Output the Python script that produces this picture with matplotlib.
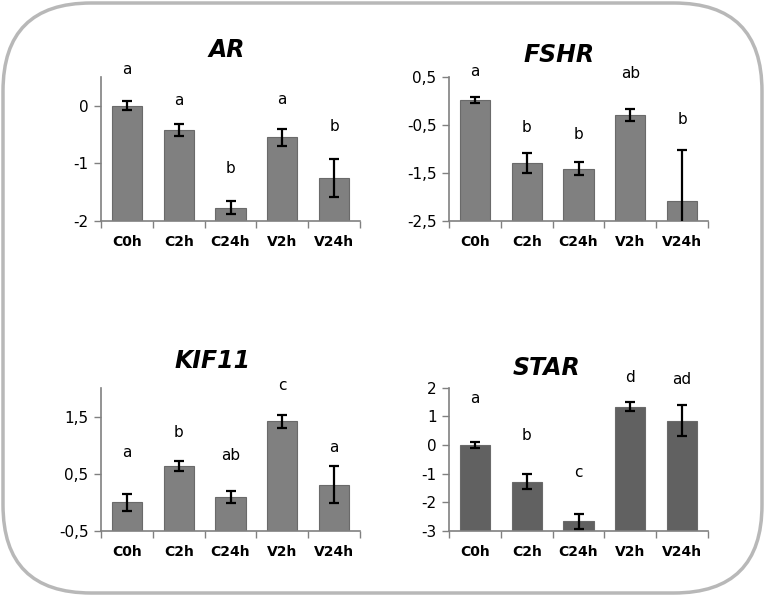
import matplotlib.pyplot as plt
from matplotlib.patches import FancyBboxPatch
import numpy as np

# --- Data ---
groups = ["C0h", "C2h", "C24h", "V2h", "V24h"]

ar_mean = [0.0, -0.42, -1.77, -0.55, -1.25]
ar_err = [0.08, 0.10, 0.11, 0.15, 0.33]
ar_letters = ["a", "a", "b", "a", "b"]
ar_letter_y = [0.62, 0.09, -1.09, 0.10, -0.36]

fshr_mean = [0.02, -1.30, -1.42, -0.29, -2.08]
fshr_err = [0.06, 0.21, 0.135, 0.125, 1.05]
fshr_letters = ["a", "b", "b", "ab", "b"]
fshr_letter_y = [0.60, -0.56, -0.71, 0.57, -0.40]

kif_mean = [0.0, 0.64, 0.09, 1.42, 0.31]
kif_err = [0.15, 0.09, 0.11, 0.11, 0.32]
kif_letters = ["a", "b", "ab", "c", "a"]
kif_letter_y = [0.88, 1.22, 0.82, 2.05, 0.96]

star_mean = [0.0, -1.28, -2.67, 1.34, 0.85]
star_err = [0.10, 0.26, 0.27, 0.16, 0.54]
star_letters = ["a", "b", "c", "d", "ad"]
star_letter_y = [1.63, 0.33, -0.96, 2.36, 2.27]

W, H = 765, 596
fig = plt.figure(figsize=(W / 100, H / 100), dpi=100)

# rounded frame drawn in pixel coordinates
bg = fig.add_axes([0, 0, 1, 1], zorder=-1)
bg.set_xlim(0, W)
bg.set_ylim(H, 0)
bg.axis("off")
bg.add_patch(FancyBboxPatch((3, 3), W - 6, H - 6,
                            boxstyle="round,pad=0,rounding_size=88",
                            facecolor="white", edgecolor="#b8b8b8", linewidth=2.5))


def px_box(left, right, top, bottom):
    return [left / W, 1 - bottom / H, (right - left) / W, (bottom - top) / H]


panels = [
    ("AR", ar_mean, ar_err, ar_letters, ar_letter_y, (-2, 0.5), [-2, -1, 0],
     ["-2", "-1", "0"], px_box(101, 360, 76.7, 221), (227, 50), "#808080"),
    ("FSHR", fshr_mean, fshr_err, fshr_letters, fshr_letter_y, (-2.5, 0.5),
     [-2.5, -1.5, -0.5, 0.5], ["-2,5", "-1,5", "-0,5", "0,5"],
     px_box(449, 708, 76.7, 220.7), (559, 55), "#808080"),
    ("KIF11", kif_mean, kif_err, kif_letters, kif_letter_y, (-0.5, 2),
     [-0.5, 0.5, 1.5], ["-0,5", "0,5", "1,5"],
     px_box(101, 360, 388.3, 530.7), (213, 361), "#808080"),
    ("STAR", star_mean, star_err, star_letters, star_letter_y, (-3, 2),
     [-3, -2, -1, 0, 1, 2], ["-3", "-2", "-1", "0", "1", "2"],
     px_box(449, 708, 387.7, 530.7), (547, 368), "#616161"),
]

x = np.arange(len(groups))
for title, mean, err, letters, ly, ylim, yt, ytl, box, tpos, color in panels:
    ax = fig.add_axes(box)
    # bars hang from the bottom of the value axis, Excel style
    base = ylim[0]
    ax.bar(x, np.array(mean) - base, width=0.58, bottom=base, color=color,
           edgecolor="#6a6a6a", linewidth=0.8, zorder=2)
    ax.errorbar(x, mean, yerr=err, fmt="none", ecolor="black", elinewidth=1.6,
                capsize=3.8, capthick=1.6, zorder=3)
    ax.set_xlim(-0.5, len(groups) - 0.5)
    ax.set_ylim(*ylim)
    ax.set_yticks(yt)
    ax.set_yticklabels(ytl, fontsize=11)
    ax.set_xticks(x)
    ax.set_xticklabels(groups, fontsize=10, fontweight="bold")
    ax.set_xticks(np.arange(-0.5, len(groups)), minor=True)
    ax.tick_params(axis="x", which="major", length=0, pad=10)
    ax.tick_params(axis="x", which="minor", length=5, color="#808080", width=1)
    ax.tick_params(axis="y", length=5, color="#808080", width=1, pad=4)
    for s in ["top", "right"]:
        ax.spines[s].set_visible(False)
    for s in ["left", "bottom"]:
        ax.spines[s].set_color("#808080")
        ax.spines[s].set_linewidth(1.2)
    for xi, lab, yy in zip(x, letters, ly):
        ax.text(xi, yy, lab, ha="center", va="center", fontsize=11, clip_on=False)
    fig.text(tpos[0] / W, 1 - tpos[1] / H, title, ha="center", va="center",
             fontsize=17, fontweight="bold", fontstyle="italic")

fig.savefig("out.png", dpi=100)
